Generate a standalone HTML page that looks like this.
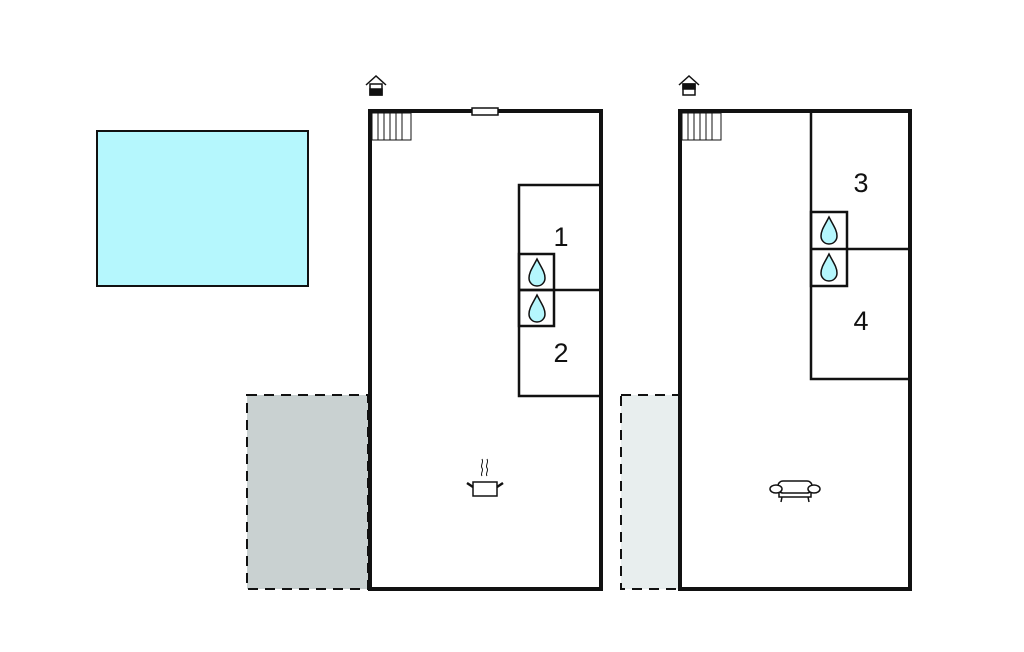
<!DOCTYPE html><html><head><style>body{margin:0;background:#fff}svg{display:block}</style></head><body>
<svg width="1024" height="652" viewBox="0 0 1024 652" xmlns="http://www.w3.org/2000/svg">
<rect x="97" y="131" width="211" height="155" fill="#b5f7fd" stroke="#111" stroke-width="2"/>
<rect x="247" y="395" width="121" height="194" fill="#c9d1d1" stroke="#111" stroke-width="2" stroke-dasharray="10,7"/>
<rect x="621" y="395" width="58" height="194" fill="#e8eeee" stroke="#111" stroke-width="2" stroke-dasharray="10,7"/>
<g fill="none" stroke="#111">
<rect x="370" y="111" width="231" height="478" fill="#fff" stroke-width="4"/>
<rect x="680" y="111" width="230" height="478" fill="#fff" stroke-width="4"/>
<rect x="472" y="108" width="26" height="7" fill="#fff" stroke-width="1.5"/>
<g stroke-width="1"><rect x="372" y="113" width="39" height="27"/><path d="M378 113v27M384 113v27M390 113v27M396 113v27M402 113v27"/>
<rect x="682" y="113" width="39" height="27"/><path d="M688 113v27M694 113v27M700 113v27M706 113v27M712 113v27"/></g>
<g stroke-width="2.5">
<path d="M600 185H519V396H600M519 290H600"/>
<rect x="519" y="254" width="35" height="72"/><path d="M519 290H554"/>
<path d="M811 111V379H909M811 249H909"/>
<rect x="811" y="212" width="36" height="74"/>
</g>
</g>
<g fill="#b5f7fd" stroke="#111" stroke-width="1.5">
<path d="M537 259C533 267 529 272 529 278C529 283 533 286 537 286C541 286 545 283 545 278C545 272 541 267 537 259Z"/>
<path d="M537 295C533 303 529 308 529 314C529 319 533 322 537 322C541 322 545 319 545 314C545 308 541 303 537 295Z"/>
<path d="M829 217C825 225 821 230 821 236C821 241 825 244 829 244C833 244 837 241 837 236C837 230 833 225 829 217Z"/>
<path d="M829 254C825 262 821 267 821 273C821 278 825 281 829 281C833 281 837 278 837 273C837 267 833 262 829 254Z"/>
</g>
<g font-family="Liberation Sans, sans-serif" font-size="27" fill="#111" text-anchor="middle">
<text x="561" y="246">1</text><text x="561" y="362">2</text><text x="861" y="192">3</text><text x="861" y="330">4</text>
</g>
<g stroke="#111" fill="none" stroke-width="1.5">
<path d="M366 85L376 76L386 85"/><rect x="370" y="84" width="12" height="11" fill="#fff"/><rect x="370" y="89" width="12" height="6" fill="#111"/>
<path d="M679 85L689 76L699 85"/><rect x="683" y="84" width="12" height="11" fill="#fff"/><rect x="683" y="84" width="12" height="5" fill="#111"/>
<rect x="473" y="482" width="24" height="14" fill="#fff"/><path d="M467 483l6 4M503 483l-6 4" stroke-width="2.5"/><path d="M482 476c-2-3 2-5 0-8c-2-3 2-5 0-9M487 476c-2-3 2-5 0-8c-2-3 2-5 0-9" stroke-width="1"/>
<rect x="778" y="481" width="34" height="12" rx="5" fill="#fff"/><ellipse cx="776" cy="489" rx="6" ry="4" fill="#fff"/><ellipse cx="814" cy="489" rx="6" ry="4" fill="#fff"/><path d="M779 493v4h32v-4M782 497l-1 5M808 497l1 5"/>
</g>
</svg>
</body></html>
